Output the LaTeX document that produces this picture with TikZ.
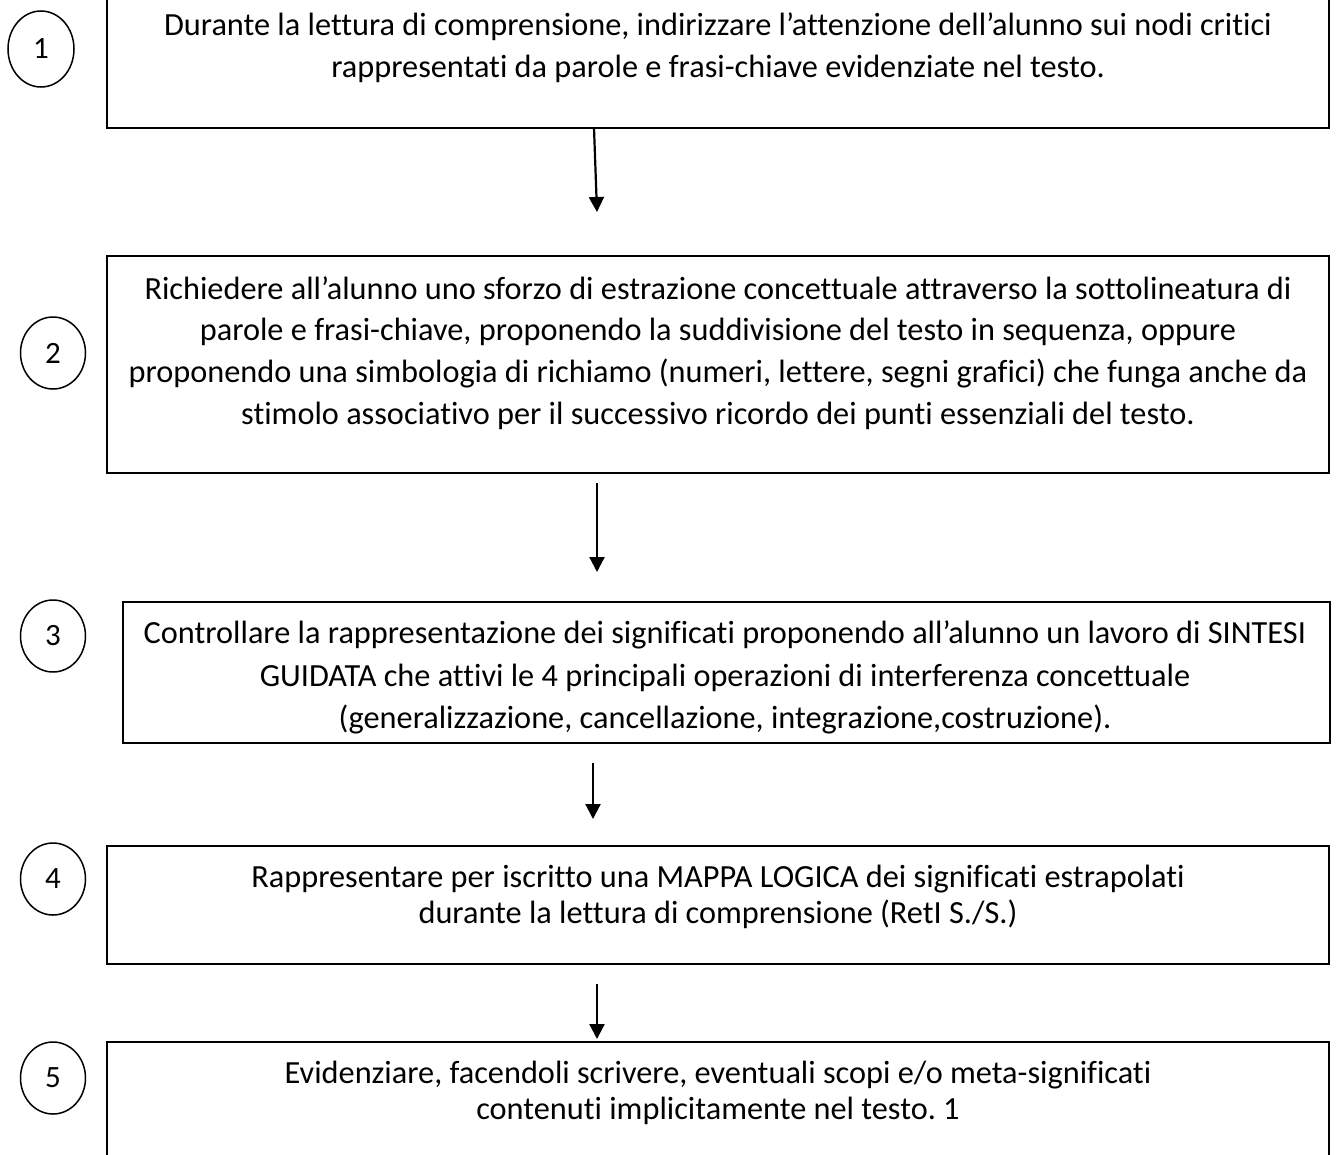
\documentclass[tikz,border=0pt]{standalone}
\usepackage{fontspec}
\setmainfont{Carlito}[Ligatures={NoCommon}]
\usetikzlibrary{arrows.meta,shapes.geometric}

\begin{document}
\frenchspacing
\begin{tikzpicture}[x=1pt,y=-1pt,
  stepbox/.style={draw, rectangle, line width=2pt, inner sep=0pt},
  numring/.style={draw, ellipse, line width=1.5pt, inner sep=0pt,
    minimum width=65pt, minimum height=72pt, font=\fontsize{31}{36}\selectfont},
  linetext/.style={anchor=base, inner sep=0pt, font=\fontsize{32.3}{38}\selectfont},
  flow/.style={line width=2.2pt, -{Triangle[length=15pt,width=15pt]}}]

\useasboundingbox (0,0) rectangle (1338,1154);
\clip (0,0) rectangle (1338,1154);

% step boxes
\node[stepbox, minimum width=1222pt, minimum height=148pt] (b1) at (718,54) {};
\node[stepbox, minimum width=1222pt, minimum height=217pt] (b2) at (718,364.5) {};
\node[stepbox, minimum width=1207pt, minimum height=141pt] (b3) at (726.5,672.5) {};
\node[stepbox, minimum width=1222pt, minimum height=118pt] (b4) at (718,905) {};
\node[stepbox, minimum width=1222pt, minimum height=158pt] (b5) at (718,1121) {};

% step numbers
\node[numring, minimum width=66pt, minimum height=76pt] (n1) at (41,49) {1};
\node[numring] (n2) at (53,353) {2};
\node[numring] (n3) at (53,636) {3};
\node[numring] (n4) at (53,879) {4};
\node[numring] (n5) at (53,1078) {5};

% texts
\node[linetext] (t1a) at (718,35) {Durante la lettura di comprensione, indirizzare l’attenzione dell’alunno sui nodi critici};
\node[linetext] (t1b) at (718,77) {rappresentati da parole e frasi-chiave evidenziate nel testo.};

\node[linetext] (t2a) at (718,299) {Richiedere all’alunno uno sforzo di estrazione concettuale attraverso la sottolineatura di};
\node[linetext] (t2b) at (718,340) {parole e frasi-chiave, proponendo la suddivisione del testo in sequenza, oppure};
\node[linetext] (t2c) at (718,382) {proponendo una simbologia di richiamo (numeri, lettere, segni grafici) che funga anche da};
\node[linetext] (t2d) at (718,424) {stimolo associativo per il successivo ricordo dei punti essenziali del testo.};

\begin{scope}
  \clip (b3.north west) rectangle ([yshift=-11pt]b3.south east);
  \node[linetext] (t3a) at (725,643) {Controllare la rappresentazione dei significati proponendo all’alunno un lavoro di SINTESI};
  \node[linetext] (t3b) at (725,686) {GUIDATA che attivi le 4 principali operazioni di interferenza concettuale};
  \node[linetext] (t3c) at (725,728) {(generalizzazione, cancellazione, integrazione,costruzione).};
\end{scope}

\node[linetext] (t4a) at (718,887) {Rappresentare per iscritto una MAPPA LOGICA dei significati estrapolati};
\node[linetext] (t4b) at (718,923) {durante la lettura di comprensione (RetI S./S.)};

\node[linetext] (t5a) at (718,1083) {Evidenziare, facendoli scrivere, eventuali scopi e/o meta-significati};
\node[linetext] (t5b) at (718,1119) {contenuti implicitamente nel testo. 1};

% connectors
\coordinate (s1) at (594,128);
\coordinate (e1) at (597,212);
\coordinate (s2) at (597,483);
\coordinate (e2) at (597,572);
\coordinate (s3) at (593,763);
\coordinate (e3) at (593,819);
\coordinate (s4) at (597,984);
\coordinate (e4) at (597,1039);
\draw[flow] (s1) -- (e1);
\draw[flow] (s2) -- (e2);
\draw[flow] (s3) -- (e3);
\draw[flow] (s4) -- (e4);
\end{tikzpicture}
\end{document}
